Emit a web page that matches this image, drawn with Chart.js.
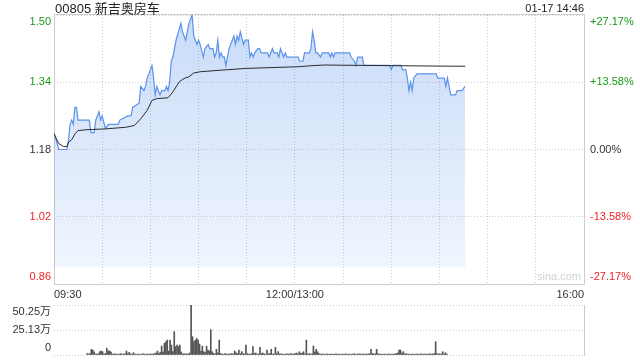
<!DOCTYPE html>
<html>
<head>
<meta charset="utf-8">
<script src="https://cdn.jsdelivr.net/npm/chart.js@4.4.0/dist/chart.umd.min.js"></script>
<style>
  body { margin: 0; background: #fff; width: 640px; height: 360px; overflow: hidden; position: relative;
         font-family: Arial, "Liberation Sans", "Noto Sans CJK SC", sans-serif; }
  #price { position: absolute; left: 0; top: 0; }
  #vol { position: absolute; left: 0; top: 300px; }
  .txt { position: absolute; white-space: nowrap; }
</style>
</head>
<body>
<canvas id="price" width="640" height="300"></canvas>
<canvas id="vol" width="640" height="60"></canvas>
<div class="txt" style="left:55px;top:-2px;font-size:13px;color:#222">00805 新吉奥房车</div>
<div class="txt" style="right:56px;top:2px;font-size:11px;color:#222">01-17 14:46</div>
<div class="txt" style="left:537px;top:270px;font-size:11px;color:#d2d2d2">sina.com</div>
<script>
// minutes after 09:30 (lunch break removed) and price
const prevClose = 1.18;
const priceMinutes = [0, 3, 8, 9, 10, 11, 12, 13, 14, 15, 22, 23, 25, 26, 28, 29, 30, 32, 34, 40,
  41, 46, 48, 49, 53, 54, 56, 57, 58, 60, 61, 62, 63, 64, 66, 67, 69, 70, 71, 72,
  73, 74, 76, 79, 80, 82, 84, 86, 87, 89, 90, 91, 93, 94, 96, 97, 99, 100, 101, 102,
  103, 104, 105, 106, 107, 108, 109, 111, 112, 113, 114, 115, 116, 118, 119, 121, 122, 123, 124, 125,
  127, 128, 129, 133, 134, 135, 136, 137, 139, 140, 141, 143, 144, 145, 152, 153, 155, 156, 159, 160,
  161, 162, 163, 164, 166, 167, 171, 172, 173, 174, 175, 176, 184, 185, 187, 188, 189, 192, 193, 209,
  210, 211, 216, 217, 219, 220, 221, 222, 223, 224, 226, 238, 239, 243, 244, 245, 246, 247, 250, 251,
  254, 256];
const prices = [1.22, 1.18, 1.18, 1.20, 1.24, 1.25, 1.24, 1.28, 1.28, 1.25, 1.25, 1.22, 1.22, 1.25, 1.27, 1.25, 1.26, 1.23, 1.24, 1.24,
  1.25, 1.26, 1.26, 1.28, 1.29, 1.33, 1.32, 1.33, 1.35, 1.37, 1.38, 1.35, 1.31, 1.33, 1.31, 1.32, 1.32, 1.33, 1.32, 1.34,
  1.39, 1.40, 1.44, 1.48, 1.46, 1.44, 1.48, 1.50, 1.45, 1.43, 1.44, 1.43, 1.40, 1.42, 1.43, 1.42, 1.42, 1.40, 1.41, 1.44,
  1.40, 1.41, 1.40, 1.40, 1.38, 1.40, 1.42, 1.44, 1.45, 1.43, 1.45, 1.44, 1.46, 1.43, 1.44, 1.44, 1.40, 1.41, 1.40, 1.41,
  1.42, 1.42, 1.41, 1.41, 1.40, 1.41, 1.42, 1.41, 1.41, 1.40, 1.42, 1.40, 1.41, 1.40, 1.40, 1.39, 1.39, 1.41, 1.41, 1.42,
  1.46, 1.44, 1.41, 1.41, 1.40, 1.41, 1.41, 1.40, 1.41, 1.40, 1.41, 1.41, 1.41, 1.40, 1.39, 1.38, 1.40, 1.40, 1.38, 1.38,
  1.37, 1.38, 1.38, 1.37, 1.37, 1.35, 1.32, 1.34, 1.32, 1.35, 1.36, 1.36, 1.35, 1.35, 1.33, 1.35, 1.33, 1.31, 1.31, 1.32,
  1.32, 1.33];
const avgMinutes = [0, 3, 6, 8, 9, 11, 13, 15, 20, 32, 45, 50, 54, 58, 61, 64, 71, 74, 78, 81,
  84, 87, 91, 105, 120, 153, 159, 168, 223, 256];
const avgPrices = [1.217, 1.194, 1.187, 1.187, 1.197, 1.203, 1.217, 1.225, 1.227, 1.229, 1.233, 1.237, 1.253, 1.273, 1.297, 1.301, 1.303, 1.317, 1.341, 1.349,
  1.353, 1.362, 1.365, 1.369, 1.373, 1.377, 1.379, 1.381, 1.379, 1.378];
// volume per minute, in 万股
const volumes = [
  1.5, 1.0, 1.5, 5.7, 5.0, 3.3, 1.0, 0.8, 1.2, 3.3,
  4.0, 3.3, 1.0, 1.5, 6.7, 4.0, 4.2, 3.0, 1.0, 0.8,
  1.2, 0.6, 1.0, 0.8, 1.5, 0.7, 1.0, 1.2, 4.0, 1.5,
  2.7, 1.0, 0.8, 2.3, 1.0, 0.6, 0.8, 1.0, 0.5, 0.8,
  1.2, 0.6, 0.8, 1.0, 0.7, 1.2, 0.6, 1.0, 1.5, 2.0,
  4.0, 1.5, 2.5, 9.0, 3.0, 11.7, 13.4, 15.0, 4.0, 15.0,
  10.0, 3.5, 23.4, 8.4, 10.0, 8.4, 10.0, 3.0, 1.0, 1.5,
  0.8, 1.2, 1.0, 2.0, 50.25, 18.4, 13.4, 15.0, 16.7, 15.0,
  11.0, 4.0, 9.0, 3.3, 2.5, 9.0, 5.0, 4.0, 25.5, 3.3,
  1.5, 1.2, 5.7, 2.0, 15.0, 1.5, 1.0, 0.8, 1.5, 1.0,
  0.8, 1.2, 1.0, 1.5, 1.0, 4.0, 2.3, 1.5, 5.0, 1.2,
  3.3, 1.5, 1.0, 10.0, 1.5, 0.8, 1.0, 1.2, 8.4, 1.5,
  2.0, 1.0, 0.8, 7.7, 1.5, 2.0, 1.0, 0.8, 5.0, 1.2,
  1.5, 5.7, 1.0, 0.8, 7.7, 1.5, 3.3, 1.0, 1.2, 0.8,
  1.0, 0.6, 1.2, 0.8, 1.0, 1.5, 0.8, 1.0, 1.5, 2.0,
  1.0, 3.3, 1.5, 2.0, 3.3, 1.0, 15.0, 1.0, 1.5, 0.8,
  1.2, 9.0, 3.0, 5.7, 3.3, 1.5, 1.0, 0.8, 1.0, 0.6,
  0.8, 1.0, 0.7, 0.8, 1.0, 0.6, 0.8, 1.2, 0.7, 1.0,
  0.6, 0.8, 1.0, 0.7, 1.2, 0.6, 0.8, 1.0, 0.6, 0.8,
  1.5, 0.7, 1.0, 0.8, 1.2, 0.6, 1.0, 0.8, 1.0, 0.7,
  1.2, 1.0, 5.7, 1.5, 1.0, 1.2, 5.7, 1.5, 0.8, 1.0,
  0.7, 0.8, 1.0, 0.6, 0.8, 1.0, 0.7, 1.0, 0.8, 1.2,
  1.5, 2.0, 5.0, 5.0, 2.0, 3.3, 1.0, 1.5, 0.8, 1.0,
  0.7, 0.8, 1.0, 0.6, 0.8, 1.0, 0.7, 0.8, 1.2, 0.6,
  1.0, 0.8, 0.7, 1.0, 1.2, 0.8, 1.0, 1.5, 13.4, 1.5,
  1.0, 1.2, 0.8, 3.3, 1.0, 2.3, 0.8
];
const yTicks = [0.86, 1.02, 1.18, 1.34, 1.50];
const yLabels = ['0.86', '1.02', '1.18', '1.34', '1.50'];
const pctLabels = ['-27.17%', '-13.58%', '0.00%', '+13.58%', '+27.17%'];
const xTickMinutes = [0, 30, 60, 90, 120, 150, 180, 210, 240, 270, 300, 330];
const xLabelMinutes = [0, 150, 330];
const xLabels = ['09:30', '12:00/13:00', '16:00'];
const volTicks = [0, 25.125, 50.25];
const volLabels = ['0', '25.13万', '50.25万'];

const GREEN = '#1a9a1a', RED = '#ee2222', DARK = '#333';
const GRID = '#cccccc';
Chart.defaults.font.family = 'Arial, "Liberation Sans", "Noto Sans CJK SC", sans-serif';
Chart.defaults.font.size = 11;

// first label sits above its line, last label below its line
function edgeLabel(text, i, n) {
  if (i === 0) return [text, ''];
  if (i === n - 1) return ['', text];
  return text;
}
function priceColor(v) {
  if (v > prevClose + 1e-6) return GREEN;
  if (v < prevClose - 1e-6) return RED;
  return DARK;
}
// keep the plot area exactly where we want it
function fixSize(w, h) {
  return s => {
    if (w != null) s.width = w;
    if (h != null) s.height = h;
    s.paddingTop = 0; s.paddingBottom = 0; s.paddingLeft = 0; s.paddingRight = 0;
  };
}

const frame = {
  id: 'frame',
  beforeDatasetsDraw(chart, args, opts) {
    const { ctx, chartArea: a } = chart;
    ctx.save();
    ctx.strokeStyle = opts.color || GRID;
    ctx.lineWidth = 1;
    ctx.beginPath();
    if (opts.full) {
      ctx.rect(a.left + 0.5, a.top - 0.5, a.right - a.left, a.bottom - a.top + 1);
    } else {
      ctx.moveTo(a.right + 0.5, a.top); ctx.lineTo(a.right + 0.5, a.bottom + 1);
    }
    ctx.stroke();
    ctx.restore();
  }
};

new Chart(document.getElementById('price').getContext('2d'), {
  type: 'line',
  data: {
    datasets: [
      {
        label: '均价',
        data: avgMinutes.map((m, i) => ({ x: m, y: avgPrices[i] })),
        borderColor: '#2b2b2b',
        borderWidth: 1,
        pointRadius: 0,
        fill: false,
        yAxisID: 'y'
      },
      {
        label: '价格',
        data: priceMinutes.map((m, i) => ({ x: m, y: prices[i] })),
        borderColor: '#5b93ea',
        borderWidth: 1.2,
        pointRadius: 0,
        fill: { value: 0.90 },
        backgroundColor(c) {
          const a = c.chart.chartArea;
          if (!a) return 'rgba(0,0,0,0)';
          const g = c.chart.ctx.createLinearGradient(0, a.top, 0, a.bottom);
          g.addColorStop(0, 'rgba(80,140,235,0.31)');
          g.addColorStop(1, 'rgba(80,140,235,0.07)');
          return g;
        },
        yAxisID: 'y'
      }
    ]
  },
  options: {
    responsive: false,
    animation: false,
    layout: { padding: { top: 15 } },
    plugins: { legend: { display: false }, tooltip: { enabled: false }, frame: { full: true } },
    scales: {
      x: {
        type: 'linear', min: 0, max: 330,
        afterBuildTicks: s => { s.ticks = xTickMinutes.map(v => ({ value: v })); },
        afterFit: fixSize(null, 16),
        grid: { color: GRID, drawTicks: false },
        border: { display: false, dash: [1, 2] },
        ticks: {
          autoSkip: false, maxRotation: 0, align: 'inner', padding: 4, color: DARK,
          callback: v => { const i = xLabelMinutes.indexOf(v); return i >= 0 ? xLabels[i] : ''; }
        }
      },
      y: {
        position: 'left', min: 0.86, max: 1.50,
        afterBuildTicks: s => { s.ticks = yTicks.map(v => ({ value: v })); },
        afterFit: fixSize(54, null),
        grid: { color: GRID, drawTicks: false },
        border: { display: false, dash: [1, 2] },
        ticks: {
          autoSkip: false, padding: 3,
          color: c => priceColor(c.tick.value),
          callback: (v, i) => edgeLabel(yLabels[i], i, yLabels.length)
        }
      },
      y2: {
        position: 'right', min: 0.86, max: 1.50,
        afterBuildTicks: s => { s.ticks = yTicks.map(v => ({ value: v })); },
        afterFit: fixSize(56, null),
        grid: { display: false, drawTicks: false },
        border: { display: false },
        ticks: {
          autoSkip: false, padding: 6,
          color: c => priceColor(c.tick.value),
          callback: (v, i) => edgeLabel(pctLabels[i], i, pctLabels.length)
        }
      }
    }
  },
  plugins: [frame]
});

new Chart(document.getElementById('vol').getContext('2d'), {
  type: 'bar',
  data: {
    datasets: [{
      label: '成交量',
      data: volumes.map((v, i) => ({ x: i, y: v })),
      backgroundColor: '#555',
      barThickness: 1
    }]
  },
  options: {
    responsive: false,
    animation: false,
    layout: { padding: { top: 5, bottom: 5, right: 56 } },
    plugins: { legend: { display: false }, tooltip: { enabled: false }, frame: { full: false } },
    scales: {
      x: { type: 'linear', min: 0, max: 330, display: false },
      y: {
        min: 0, max: 50.25,
        afterBuildTicks: s => { s.ticks = volTicks.map(v => ({ value: v })); },
        afterFit: fixSize(54, null),
        grid: { color: GRID, drawTicks: false },
        border: { display: false, dash: [1, 2] },
        ticks: {
          autoSkip: false, padding: 3, color: DARK,
          callback: (v, i) => edgeLabel(volLabels[i], i, volLabels.length)
        }
      }
    }
  },
  plugins: [frame]
});
</script>
</body>
</html>
